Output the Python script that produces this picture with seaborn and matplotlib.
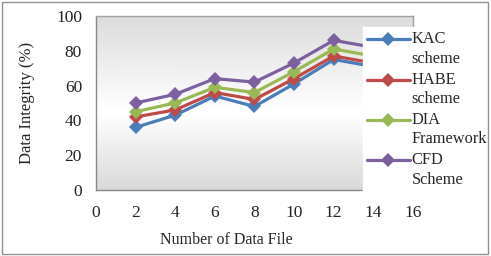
import numpy as np
import pandas as pd
import matplotlib
matplotlib.use("Agg")
import matplotlib.pyplot as plt
import seaborn as sns
from matplotlib.patches import Rectangle
from matplotlib.legend_handler import HandlerLine2D

files = [2, 4, 6, 8, 10, 12, 14]
kac = [36, 43, 54, 48, 61, 75, 71]
habe = [42, 46, 56, 52, 64, 77, 73]
dia = [45, 50, 59, 56, 68, 81, 77]
cfd = [50, 55, 64, 62, 73, 86, 82]
series_names = ["KAC\nscheme", "HABE\nscheme", "DIA\nFramework", "CFD\nScheme"]
colors = ["#4A7EBB", "#BE4B48", "#98B954", "#7D60A0"]

sns.set_theme(style="white")
plt.rcParams['font.family'] = ['Liberation Serif', 'DejaVu Serif']

rows = []
for name, vals in zip(series_names, [kac, habe, dia, cfd]):
    for x, v in zip(files, vals):
        rows.append({"Files": x, "Value": v, "Series": name})
df = pd.DataFrame(rows)

fig = plt.figure(figsize=(4.91, 2.56), dpi=100)
ax = fig.add_axes([0.1955, 0.258, 0.6455, 0.6795])

# gradient background
grad = np.concatenate([np.linspace(0.86, 1.0, 55), np.linspace(1.0, 0.85, 45)])
img = np.repeat(grad[:, None], 2, axis=1)
ax.imshow(img, cmap="gray", vmin=0, vmax=1, aspect="auto",
          extent=[0, 1, 0, 1], transform=ax.transAxes, zorder=0)

sns.lineplot(data=df, x="Files", y="Value", hue="Series", palette=colors,
             marker="D", markersize=7.5, markeredgewidth=0, linewidth=2.3,
             ax=ax, legend=True, zorder=3)

ax.set_xlim(0, 16)
ax.set_ylim(0, 100)
ax.set_xticks(range(0, 17, 2))
ax.set_yticks(range(0, 101, 20))
ax.tick_params(axis="y", labelsize=12.5, colors="#222222", length=0, pad=10)
ax.tick_params(axis="x", labelsize=12.5, colors="#222222", length=5,
               direction="out", pad=6)
ax.tick_params(axis="x", color="#888888")
for s in ax.spines.values():
    s.set_color("#a0a0a0")
    s.set_linewidth(1.0)
ax.spines["left"].set_color("#888888")
ax.spines["bottom"].set_color("#888888")
ax.set_xlabel("Number of Data File", fontsize=11.5, va="center")
ax.set_ylabel("Data Integrity (%)", fontsize=12, va="center")
ax.xaxis.set_label_coords(0.41, -0.285)
ax.yaxis.set_label_coords(-0.217, 0.5)


class TopHandler(HandlerLine2D):
    def create_artists(self, legend, orig_handle, xdescent, ydescent,
                       width, height, fontsize, trans):
        arts = super().create_artists(legend, orig_handle, xdescent, ydescent,
                                      width, height, fontsize, trans)
        for a in arts:
            a.set_ydata(np.asarray(a.get_ydata()) + fontsize * 0.62)
        return arts


handles, labels = ax.get_legend_handles_labels()
leg = ax.legend(handles, labels, loc="upper left", bbox_to_anchor=(0.739, 0.893),
                bbox_transform=fig.transFigure, frameon=True, fancybox=False,
                edgecolor="white", facecolor="white", framealpha=1,
                fontsize=11.8, handlelength=2.6, handletextpad=0.12,
                labelspacing=0.28, borderpad=0.25, borderaxespad=0,
                handler_map={h: TopHandler() for h in handles})
for t in leg.get_texts():
    t.set_linespacing(1.3)

fig.patches.append(Rectangle((0.004, 0.006), 0.99, 0.988, transform=fig.transFigure,
                             fill=False, edgecolor="#909090", linewidth=1.0))

fig.savefig("out.png", dpi=100)
